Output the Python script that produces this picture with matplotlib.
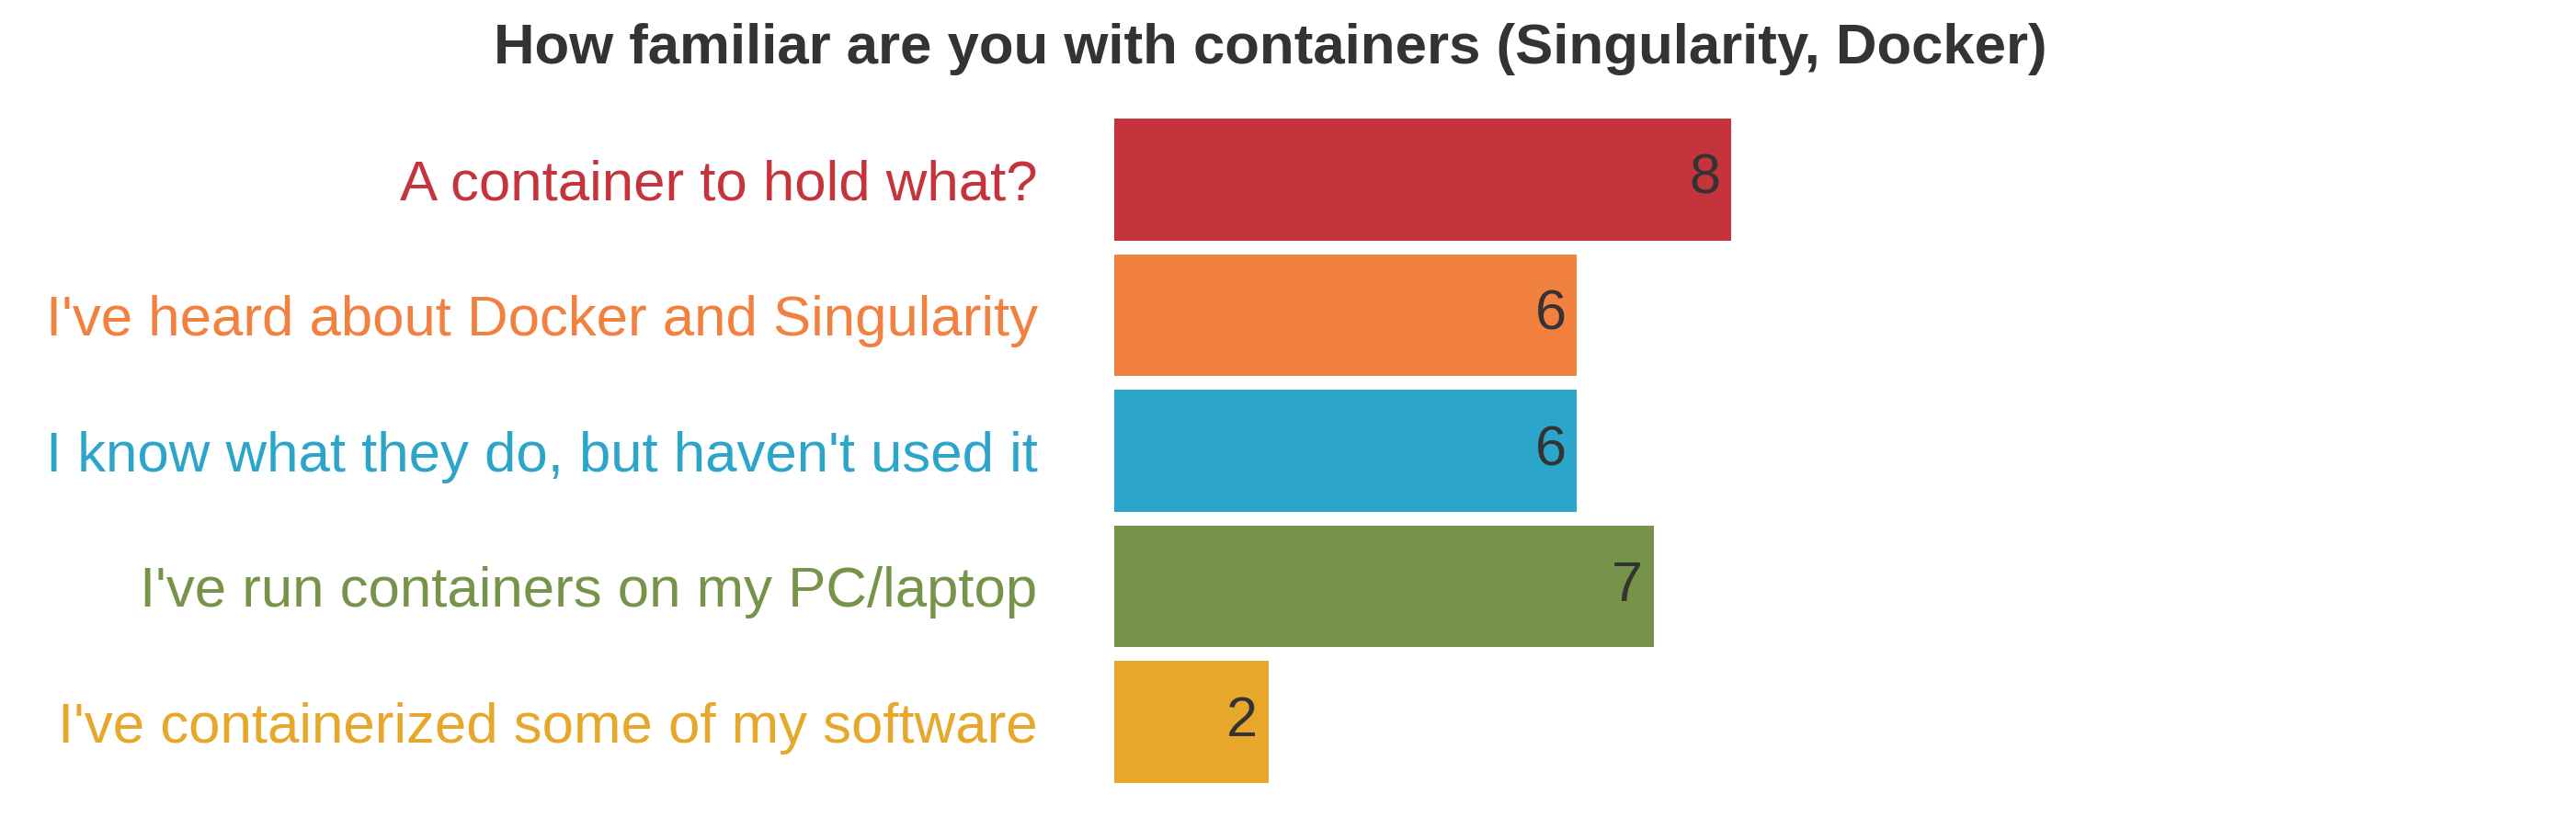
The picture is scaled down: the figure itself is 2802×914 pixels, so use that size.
import matplotlib.pyplot as plt

plt.rcParams['font.family'] = ['Liberation Sans', 'DejaVu Sans']

answers = ["A container to hold what?",
           "I've heard about Docker and Singularity",
           "I know what they do, but haven't used it",
           "I've run containers on my PC/laptop",
           "I've containerized some of my software"]
counts = [8, 6, 6, 7, 2]
colors = ['#C5343D', '#F2803F', '#2CA5CB', '#769449', '#E6A72B']

fig = plt.figure(figsize=(28.02, 9.14), dpi=100)
ax = fig.add_axes([0.4325, 0.0678, 0.2395, 0.791])

pos = list(range(len(answers)))
bars = ax.barh(pos, counts, height=0.9, color=colors)
ax.set_ylim(len(answers) - 0.55, -0.45)
ax.set_xlim(0, 8)

for b, c in zip(bars, counts):
    ax.text(b.get_width() - 0.14, b.get_y() + b.get_height() / 2, str(c),
            ha='right', va='center', fontsize=44, color='#333333')

ax.set_yticks(pos)
ax.set_yticklabels(answers, fontsize=44.5)
for lab, col in zip(ax.get_yticklabels(), colors):
    lab.set_color(col)
ax.tick_params(axis='y', length=0, pad=60)
ax.set_xticks([])
for s in ax.spines.values():
    s.set_visible(False)

fig.text(0.493, 0.942, 'How familiar are you with containers (Singularity, Docker)',
         ha='center', va='center', fontsize=44.5, fontweight='bold', color='#333333')

fig.savefig('out.png', dpi=100)
